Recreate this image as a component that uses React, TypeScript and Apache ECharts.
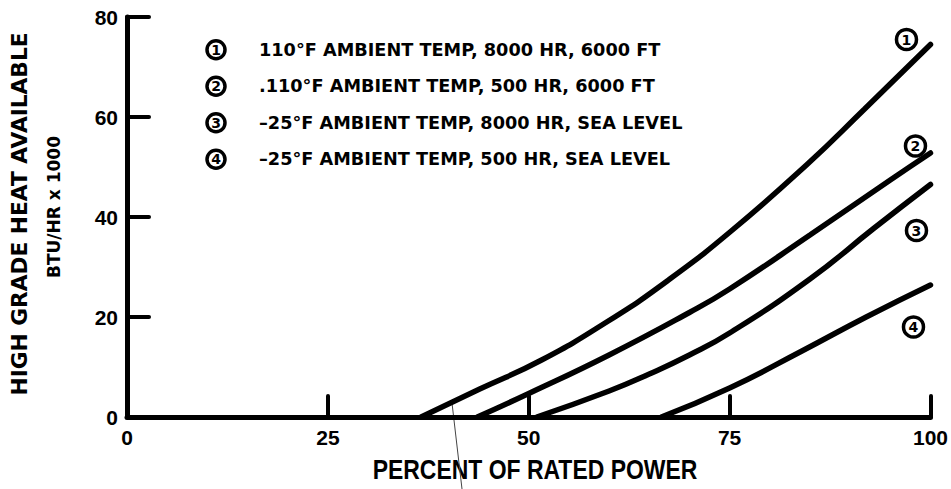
import React, { useEffect, useRef } from "react";
import * as echarts from "echarts";

const xTicks = [0, 25, 50, 75, 100];
const yTicks = [0, 20, 40, 60, 80];

const seriesNames = [
  "110°F AMBIENT TEMP, 8000 HR, 6000 FT",
  ".110°F AMBIENT TEMP, 500 HR, 6000 FT",
  "–25°F AMBIENT TEMP, 8000 HR, SEA LEVEL",
  "–25°F AMBIENT TEMP, 500 HR, SEA LEVEL",
];

const curve1: [number, number][] = [
  [36.6, 0], [43.9, 5.6], [51.6, 11.4], [59.9, 19.2], [67.4, 27.4], [75.2, 37.2], [84.7, 50.6], [91.8, 61.6], [100, 74.5],
];
const curve2: [number, number][] = [
  [43.6, 0], [50, 4.7], [60, 12.4], [70, 20.9], [75, 25.6], [85, 36.4], [95, 47.4], [100, 52.8],
];
const curve3: [number, number][] = [
  [51.0, 0], [60, 5.2], [65, 8.6], [70, 12.4], [75, 16.8], [85, 27.6], [93, 37.8], [100, 46.5],
];
const curve4: [number, number][] = [
  [66.5, 0], [75, 5.8], [84, 13.2], [92, 20.0], [100, 26.4],
];

const curves = [curve1, curve2, curve3, curve4];
const markerNumbers = ["1", "2", "3", "4"];
const markerOffsets: [number, number][] = [
  [-24, -5],
  [-15, -7],
  [-14, 46],
  [-17, 42],
];

const SANS = "'Liberation Sans', Arial, sans-serif";
const WIDE = "'DejaVu Sans', 'Liberation Sans', sans-serif";

export default function App() {
  const ref = useRef<HTMLDivElement>(null);
  useEffect(() => {
    document.body.style.margin = "0";
    if (!ref.current) return;
    const chart = echarts.init(ref.current, undefined, { renderer: "svg" });
    const option: any = {
      animation: false,
      backgroundColor: "#ffffff",
      textStyle: { fontFamily: SANS, color: "#000" },
      grid: { left: 127, right: 18, top: 17, bottom: 72, containLabel: false },
      legend: {
        show: true,
        orient: "vertical",
        left: 197,
        top: 34,
        icon: "none",
        itemWidth: 0,
        itemHeight: 0,
        itemGap: 15,
        selectedMode: false,
        data: seriesNames,
        formatter: (name: string) => {
          const i = seriesNames.indexOf(name);
          return "{n|" + markerNumbers[i] + "}{t|" + name + "}";
        },
        textStyle: {
          rich: {
            n: {
              width: 16,
              height: 16,
              lineHeight: 16,
              borderRadius: 11,
              borderWidth: 3.5,
              borderColor: "#000",
              align: "center",
              verticalAlign: "middle",
              fontFamily: WIDE,
              fontWeight: "bold",
              fontSize: 14,
              color: "#000",
              padding: [1, 1, 1, 1],
            },
            t: {
              fontFamily: WIDE,
              fontWeight: "bold",
              fontSize: 17.7,
              color: "#000",
              padding: [0, 0, 0, 34],
              verticalAlign: "middle",
              lineHeight: 23,
            },
          },
        },
      },
      xAxis: {
        type: "value",
        min: 0,
        max: 100,
        interval: 25,
        splitLine: { show: false },
        axisLine: { show: true, lineStyle: { color: "#000", width: 5, cap: "round" } },
        axisTick: { show: true, inside: true, length: 21, lineStyle: { color: "#000", width: 4, cap: "round" } },
        axisLabel: {
          margin: 10,
          fontFamily: SANS,
          fontWeight: 900,
          fontSize: 21,
          color: "#000",
          formatter: (v: number) => (xTicks.includes(v) ? String(v) : ""),
        },
      },
      yAxis: {
        type: "value",
        min: 0,
        max: 80,
        interval: 20,
        splitLine: { show: false },
        axisLine: { show: true, lineStyle: { color: "#000", width: 5, cap: "round" } },
        axisTick: { show: true, inside: true, length: 22, lineStyle: { color: "#000", width: 4, cap: "round" } },
        axisLabel: {
          margin: 9,
          fontFamily: SANS,
          fontWeight: 900,
          fontSize: 21,
          color: "#000",
          formatter: (v: number) => (yTicks.includes(v) ? String(v) : ""),
        },
      },
      series: curves.map((c, i) => ({
        name: seriesNames[i],
        type: "line",
        data: c,
        smooth: 0.5,
        showSymbol: false,
        symbol: "none",
        color: "#000",
        lineStyle: { color: "#000", width: 5.5, cap: "round" },
        silent: true,
        markPoint: {
          symbol: "circle",
          symbolSize: 20,
          symbolOffset: markerOffsets[i],
          itemStyle: { color: "#fff", borderColor: "#000", borderWidth: 3.5 },
          label: {
            show: true,
            position: "inside",
            formatter: markerNumbers[i],
            fontFamily: WIDE,
            fontWeight: "bold",
            fontSize: 14,
            color: "#000",
          },
          data: [{ coord: c[c.length - 1] }],
        },
      })),
      graphic: [
        {
          type: "text",
          x: 19,
          y: 214,
          rotation: Math.PI / 2,
          style: {
            text: "HIGH GRADE HEAT AVAILABLE",
            fontFamily: WIDE,
            fontWeight: "bold",
            fontSize: 21.7,
            fill: "#000",
            textAlign: "center",
            textVerticalAlign: "middle",
          },
        },
        {
          type: "text",
          x: 54,
          y: 207,
          rotation: Math.PI / 2,
          style: {
            text: "BTU/HR x 1000",
            fontFamily: WIDE,
            fontWeight: "bold",
            fontSize: 17,
            fill: "#000",
            textAlign: "center",
            textVerticalAlign: "middle",
          },
        },
        {
          type: "text",
          x: 535,
          y: 469,
          scaleX: 0.82,
          style: {
            text: "PERCENT OF RATED POWER",
            fontFamily: SANS,
            fontWeight: "bold",
            fontSize: 28,
            fill: "#000",
            textAlign: "center",
            textVerticalAlign: "middle",
          },
        },
        {
          type: "line",
          shape: { x1: 452, y1: 403, x2: 462, y2: 489 },
          style: { stroke: "#444", lineWidth: 1 },
        },
      ],
    };
    chart.setOption(option);
    return () => chart.dispose();
  }, []);
  return <div ref={ref} style={{ width: 951, height: 489 }} />;
}
